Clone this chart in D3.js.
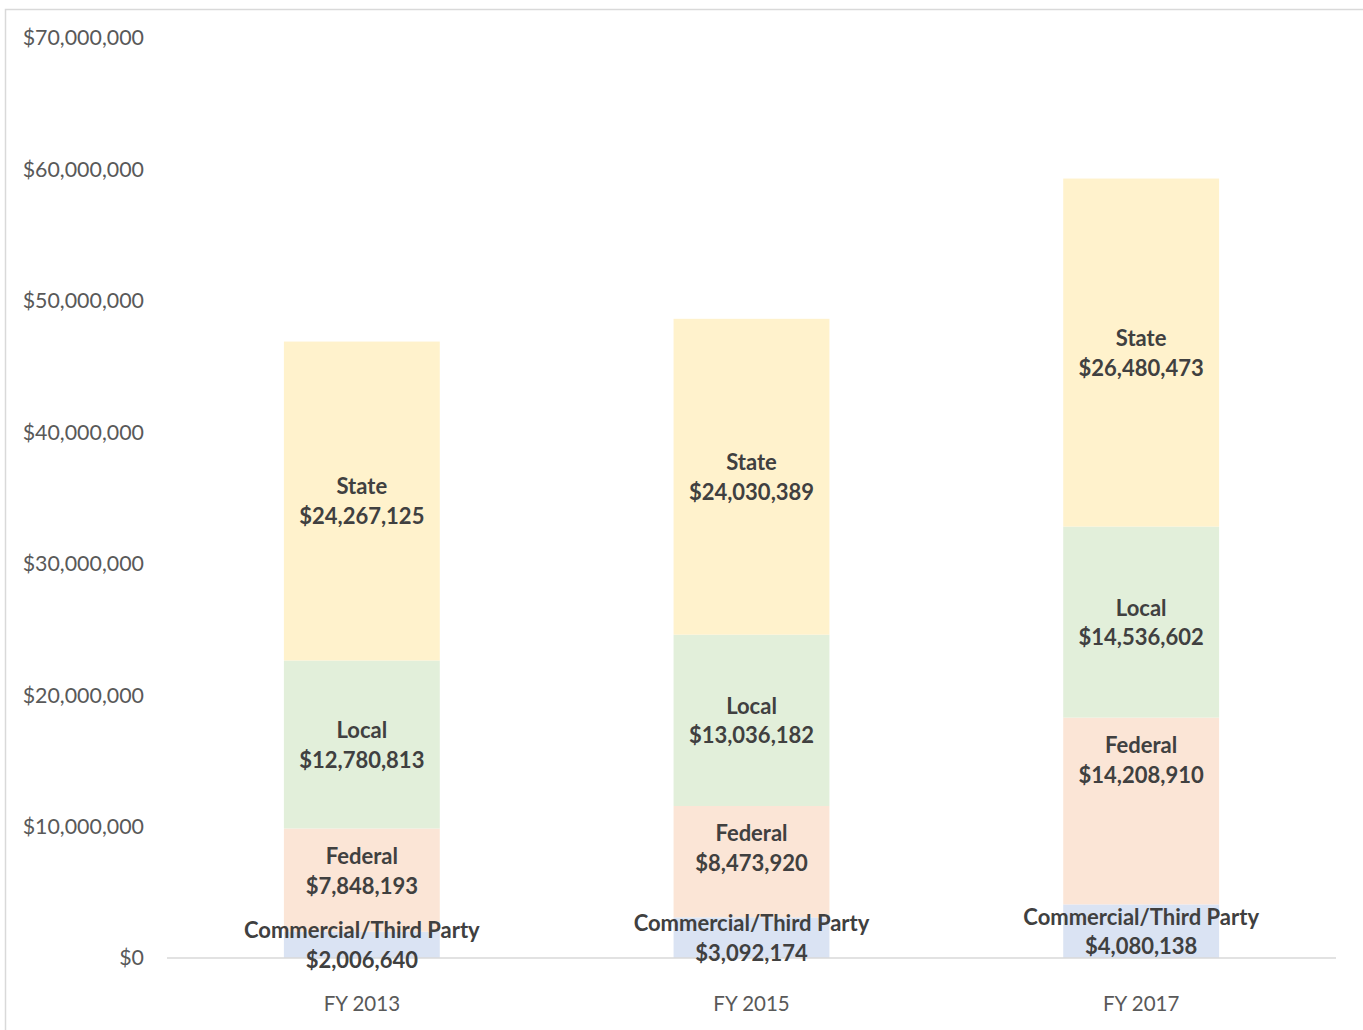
<!DOCTYPE html>
<html><head><meta charset="utf-8">
<script src="https://cdn.jsdelivr.net/npm/d3@7"></script>
<style>body{margin:0;background:#fff}svg{display:block}</style>
</head><body>
<svg id="c" width="1363" height="1030"></svg>
<script>
const categories = ["FY 2013", "FY 2015", "FY 2017"];
const seriesNames = ["Commercial/Third Party", "Federal", "Local", "State"];
const commercial = [2006640, 3092174, 4080138];
const federal = [7848193, 8473920, 14208910];
const local = [12780813, 13036182, 14536602];
const state = [24267125, 24030389, 26480473];
const yTicks = [0, 10000000, 20000000, 30000000, 40000000, 50000000, 60000000, 70000000];
const colors = ["#DAE3F3", "#FBE5D6", "#E2EFDA", "#FFF2CC"];
// label placement per series: centered, or inside end (Federal)
const labelPos = ["center", "insideEnd", "center", "center"];

const seriesVals = [commercial, federal, local, state];
const rows = categories.map((c, i) => {
  const r = {cat: c};
  seriesNames.forEach((s, j) => r[s] = seriesVals[j][i]);
  return r;
});
const stack = d3.stack().keys(seriesNames)(rows);

const svg = d3.select("#c");
const FONT = "Lato, 'Open Sans', sans-serif";

// chart border
svg.append("rect").attr("x", 5.5).attr("y", 9.5).attr("width", 1400).attr("height", 1100)
  .attr("fill", "none").attr("stroke", "#D9D9D9").attr("stroke-width", 1.5);

const x = d3.scaleBand().domain(categories).range([167, 1336]).paddingInner(0.6).paddingOuter(0.3);
const y = d3.scaleLinear().domain([0, 70000000]).range([958, 38]);

// y axis labels
const fmt = v => "$" + d3.format(",")(v);
const yAxis = d3.axisLeft(y).tickValues(yTicks).tickFormat(fmt).tickSize(0).tickPadding(0);
const ya = svg.append("g").attr("transform", "translate(144,0)").call(yAxis);
ya.select(".domain").remove();
ya.selectAll("text").attr("font-family", FONT).attr("font-size", 21.4).attr("fill", "#595959");

// bars
const g = svg.append("g");
stack.forEach((layer, j) => {
  g.selectAll(null).data(layer).enter().append("rect")
    .attr("x", d => x(d.data.cat))
    .attr("width", x.bandwidth())
    .attr("y", d => y(d[1]))
    .attr("height", d => y(d[0]) - y(d[1]))
    .attr("fill", colors[j]);
});

// baseline
svg.append("line").attr("x1", 167).attr("x2", 1336).attr("y1", 958).attr("y2", 958)
  .attr("stroke", "#D9D9D9").attr("stroke-width", 1.5);

// x axis labels
const xAxis = d3.axisBottom(x).tickSize(0).tickPadding(0);
const xa = svg.append("g").attr("transform", "translate(0,1004)").call(xAxis);
xa.select(".domain").remove();
xa.selectAll("text").attr("dy", "0.35em").attr("font-family", FONT).attr("font-size", 20.5).attr("fill", "#595959");

// data labels
const lg = svg.append("g");
stack.forEach((layer, j) => {
  layer.forEach(d => {
    const cx = x(d.data.cat) + x.bandwidth() / 2;
    const cy = labelPos[j] === "insideEnd" ? y(d[1]) + 42 : (y(d[0]) + y(d[1])) / 2;
    const t = lg.append("text").attr("x", cx).attr("y", cy)
      .attr("text-anchor", "middle").attr("font-family", FONT)
      .attr("font-weight", "bold").attr("font-size", 22).attr("fill", "#404040");
    t.append("tspan").attr("x", cx).attr("dy", "-0.3em").text(seriesNames[j]);
    t.append("tspan").attr("x", cx).attr("dy", "1.35em").text(fmt(d[1] - d[0]));
  });
});
</script>
</body></html>
